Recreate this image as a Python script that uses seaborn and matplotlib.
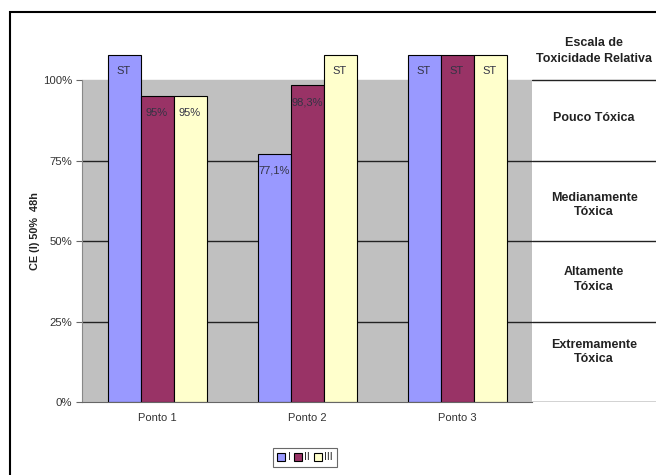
import pandas as pd
import matplotlib.pyplot as plt
import seaborn as sns
from matplotlib.patches import Rectangle

CORES = ["#9999FF", "#993366", "#FFFFCC"]
CINZA = "#C0C0C0"

pontos = ["Ponto 1", "Ponto 2", "Ponto 3"]
series = ["I", "II", "III"]
ST = 107.8  # altura desenhada para as barras "ST" (sem toxicidade)
valores_I = [ST, 77.1, ST]
valores_II = [95, 98.3, ST]
valores_III = [95, ST, ST]
rotulos_I = ["ST", "77,1%", "ST"]
rotulos_II = ["95%", "98,3%", "ST"]
rotulos_III = ["95%", "ST", "ST"]
yticks = [0, 25, 50, 75, 100]
ytick_labels = ["0%", "25%", "50%", "75%", "100%"]
escala = ["Extremamente\nTóxica", "Altamente\nTóxica", "Medianamente\nTóxica", "Pouco Tóxica"]

df = pd.DataFrame({
    "Ponto": pontos * 3,
    "Serie": ["I"] * 3 + ["II"] * 3 + ["III"] * 3,
    "Valor": valores_I + valores_II + valores_III,
})
rotulos = [rotulos_I, rotulos_II, rotulos_III]

sns.set_style("white")
plt.rcParams["font.family"] = ["Liberation Sans", "DejaVu Sans"]

fig = plt.figure(figsize=(6.56, 4.75), dpi=100)
bottom = 1 - 402 / 475
top_y = 1 - 30 / 475
ylim_top = (402 - 30) / 322 * 100
ax = fig.add_axes([82 / 656, bottom, 450 / 656, top_y - bottom])

ax.axhspan(0, 100, color=CINZA, zorder=0)
for v in [25, 50, 75]:
    ax.axhline(v, color="#222222", lw=1, zorder=0.5)

sns.barplot(data=df, x="Ponto", y="Valor", hue="Serie", palette=CORES, width=0.66,
            edgecolor="black", linewidth=0.8, saturation=1, ax=ax, zorder=2)

for cont, labs in zip(ax.containers, rotulos):
    ax.bar_label(cont, labels=labs, padding=-15.5, fontsize=8, color="#333344")

ax.set_xlim(-0.5, 2.5)
ax.set_ylim(0, ylim_top)
ax.set_yticks(yticks)
ax.set_yticklabels(ytick_labels, fontsize=8.2, color="#333333")
ax.set_xticks(range(3))
ax.set_xticklabels(pontos, fontsize=8, color="#333333")
ax.set_xticks([-0.5, 0.5, 1.5, 2.5], minor=True)
ax.tick_params(axis="x", which="major", length=0, pad=8)
ax.tick_params(axis="x", which="minor", length=4, color="#666666", width=0.8)
ax.tick_params(axis="y", length=4, color="#666666", width=0.8, left=True, pad=3)
ax.set_xlabel("")
ax.set_ylabel("")
for s in ["top", "right"]:
    ax.spines[s].set_visible(False)
ax.spines["left"].set_bounds(0, 100)
ax.spines["left"].set_color("#888888")
ax.spines["bottom"].set_color("#666666")

sns.move_legend(ax, "center", bbox_to_anchor=(305 / 656, 1 - 457.5 / 475),
                bbox_transform=fig.transFigure, ncol=3, title=None, frameon=True,
                fontsize=7.5, handlelength=0.8, handleheight=0.8, handletextpad=0.2,
                columnspacing=0.35, borderpad=0.4, fancybox=False, edgecolor="#444444")
ax.get_legend().get_frame().set_linewidth(0.8)

# escala de toxicidade ao lado direito
ax2 = fig.add_axes([532 / 656, bottom, 124 / 656, top_y - bottom])
ax2.set_xlim(0, 1)
ax2.set_ylim(0, ylim_top)
ax2.axis("off")
for v in yticks:
    ax2.axhline(v, color="#222222", lw=1)
for txt, y in zip(escala, [15.5, 38, 61.2, 88.2]):
    ax2.text(0.5, y, txt, ha="center", va="center", fontsize=9,
             fontweight="bold", color="#222222", linespacing=1.3)
ax2.text(0.5, 109, "Escala de\nToxicidade Relativa", ha="center", va="center",
         fontsize=9, fontweight="bold", color="#222222", linespacing=1.35)

fig.text(35 / 656, 1 - 231 / 475, "CE (I) 50%  48h", rotation=90, ha="center",
         va="center", fontsize=7.8, fontweight="bold", color="#222222")

fig.add_artist(Rectangle((10 / 656, -0.1), 1.2, 1.1 - 12 / 475, transform=fig.transFigure,
                         fill=False, edgecolor="black", lw=1.5))

fig.savefig("out.png", dpi=100)
plt.close()
